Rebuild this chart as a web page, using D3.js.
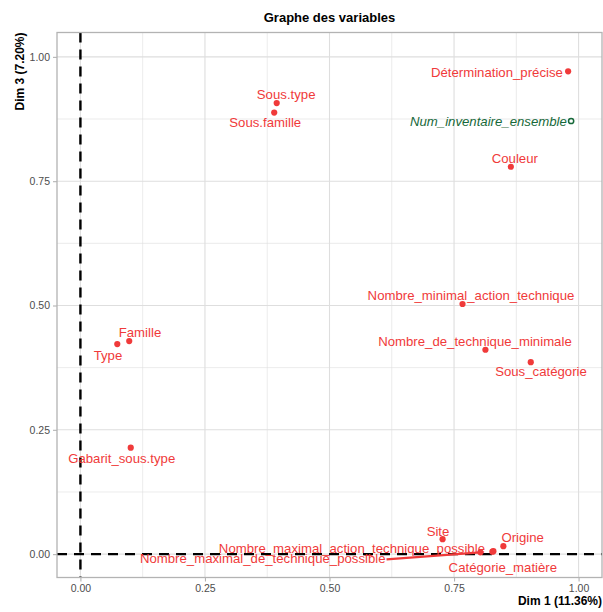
<!DOCTYPE html>
<html><head><meta charset="utf-8">
<script src="https://cdn.jsdelivr.net/npm/d3@7"></script>
<style>
html,body{margin:0;padding:0;background:#fff;}
svg{display:block;font-family:"Liberation Sans",Arial,Helvetica,sans-serif;}
</style></head>
<body>
<svg id="chart" width="603" height="612"></svg>
<script>
// ---- data ----
const variables = ["Détermination_précise","Num_inventaire_ensemble","Couleur","Sous.type","Sous.famille",
  "Nombre_minimal_action_technique","Nombre_de_technique_minimale","Sous_catégorie","Famille","Type",
  "Gabarit_sous.type","Site","Origine","Catégorie_matière","Nombre_maximal_action_technique_possible",
  "Nombre_maximal_de_technique_possible"];
const dim1 = [0.979,0.985,0.864,0.394,0.389,0.767,0.813,0.904,0.098,0.074,0.101,0.727,0.849,0.829,0.827,0.803];
const dim3 = [0.971,0.871,0.779,0.907,0.888,0.503,0.411,0.386,0.4285,0.4224,0.214,0.030,0.016,0.006,0.005,0.0036];
const supplementary = [false,true,false,false,false,false,false,false,false,false,false,false,false,false,false,false];
// repelled label centres (layout, in data units)
const labelX = [0.836,0.819,0.872,0.413,0.371,0.784,0.792,0.9245,0.1196,0.0554,0.0829,0.7178,0.8878,0.848,0.545,0.366];
const labelY = [0.970,0.871,0.796,0.925,0.868,0.521,0.4285,0.3668,0.447,0.400,0.1938,0.047,0.0338,-0.0265,0.0123,-0.0084];
const xTicks = [0,0.25,0.5,0.75,1.0];
const yTicks = [0,0.25,0.5,0.75,1.0];
const xMinor = [0.125,0.375,0.625,0.875];
const yMinor = [0.125,0.375,0.625,0.875];
const title = "Graphe des variables";
const xTitle = "Dim 1 (11.36%)";
const yTitle = "Dim 3 (7.20%)";

// ---- layout ----
const svg = d3.select("#chart");
const L=57, R=602, T=32.5, B=577.5;
const x = d3.scaleLinear().domain([-0.047,1.047]).range([L,R]);
const y = d3.scaleLinear().domain([-0.047,1.049]).range([B,T]);
const RED="#F03A3A", GREEN="#17693A", GRID="#DEDEDE", FRAME="#B3B3B3";

const g = svg.append("g");
g.append("rect").attr("x",L).attr("y",T).attr("width",R-L).attr("height",B-T).attr("fill","#fff");
// minor grid
g.selectAll(".mx").data(xMinor).join("line").attr("x1",d=>x(d)).attr("x2",d=>x(d)).attr("y1",T).attr("y2",B).attr("stroke",GRID).attr("stroke-width",0.6);
g.selectAll(".my").data(yMinor).join("line").attr("y1",d=>y(d)).attr("y2",d=>y(d)).attr("x1",L).attr("x2",R).attr("stroke",GRID).attr("stroke-width",0.6);
// major grid
g.selectAll(".gx").data(xTicks).join("line").attr("x1",d=>x(d)).attr("x2",d=>x(d)).attr("y1",T).attr("y2",B).attr("stroke",GRID).attr("stroke-width",1.1);
g.selectAll(".gy").data(yTicks).join("line").attr("y1",d=>y(d)).attr("y2",d=>y(d)).attr("x1",L).attr("x2",R).attr("stroke",GRID).attr("stroke-width",1.1);

// reference dashed lines
g.append("line").attr("x1",x(0)).attr("x2",x(0)).attr("y1",T).attr("y2",B).attr("stroke","#000").attr("stroke-width",2.4).attr("stroke-dasharray","10,7");
g.append("line").attr("y1",y(0)).attr("y2",y(0)).attr("x1",L).attr("x2",R).attr("stroke","#000").attr("stroke-width",2.4).attr("stroke-dasharray","10,7");

// axes
const xAxis = d3.axisBottom(x).tickValues(xTicks).tickFormat(d3.format(".2f")).tickSize(4).tickPadding(3);
const yAxis = d3.axisLeft(y).tickValues(yTicks).tickFormat(d3.format(".2f")).tickSize(4).tickPadding(3);
const gx = svg.append("g").attr("transform",`translate(0,${B})`).call(xAxis);
const gy = svg.append("g").attr("transform",`translate(${L},0)`).call(yAxis);
[gx,gy].forEach(a=>{
  a.select(".domain").remove();
  a.selectAll(".tick line").attr("stroke",FRAME).attr("stroke-width",1.1);
  a.selectAll(".tick text").attr("fill","#4D4D4D").attr("font-size","10.5px").attr("font-family","Liberation Sans, Arial, sans-serif");
});

// panel frame
svg.append("rect").attr("x",L).attr("y",T).attr("width",R-L).attr("height",B-T).attr("fill","none").attr("stroke",FRAME).attr("stroke-width",1.3);

// data-derived rows
const rows = variables.map((v,i)=>({name:v,x:dim1[i],y:dim3[i],sup:supplementary[i],lx:labelX[i],ly:labelY[i]}));
const fs = 13.2;
const tmp = svg.append("text").attr("font-size",fs+"px");
rows.forEach(r=>{ tmp.text(r.name); r.w = tmp.node().getComputedTextLength(); });
tmp.remove();

// segments (ggrepel-like) when label far from point
const segG = svg.append("g");
rows.forEach(r=>{
  const px=x(r.x), py=y(r.y), cx=x(r.lx), cy=y(r.ly);
  const hw=r.w/2, hh=7;
  const nx=Math.max(cx-hw,Math.min(px,cx+hw)), ny=Math.max(cy-hh,Math.min(py,cy+hh));
  const dist=Math.hypot(px-nx,py-ny);
  if(dist>20){
    const sx = px>cx+hw ? cx+hw+1 : (px<cx-hw ? cx-hw-1 : nx);
    const sy = (px>cx+hw || px<cx-hw) ? cy+1 : ny;
    segG.append("line").attr("x1",sx).attr("y1",sy).attr("x2",px).attr("y2",py)
      .attr("stroke",r.sup?GREEN:RED).attr("stroke-width",2.2);
  }
});

// points
svg.selectAll(".pt").data(rows).join("circle")
  .attr("cx",d=>x(d.x)).attr("cy",d=>y(d.y)).attr("r",d=>d.sup?2.6:3.1)
  .attr("fill",d=>d.sup?"none":RED).attr("stroke",d=>d.sup?GREEN:"none").attr("stroke-width",1.5);

// labels
svg.selectAll(".lab").data(rows).join("text")
  .attr("x",d=>x(d.lx)).attr("y",d=>y(d.ly)).attr("dy","0.36em")
  .attr("text-anchor","middle").attr("font-size",fs+"px")
  .attr("font-style",d=>d.sup?"italic":"normal")
  .attr("fill",d=>d.sup?GREEN:RED).text(d=>d.name);

// titles
svg.append("text").attr("x",(L+R)/2).attr("y",22).attr("text-anchor","middle").attr("font-weight","bold").attr("font-size","13px").text(title);
svg.append("text").attr("x",R).attr("y",605).attr("text-anchor","end").attr("font-weight","bold").attr("font-size","12px").text(xTitle);
svg.append("text").attr("transform",`translate(24,${T}) rotate(-90)`).attr("text-anchor","end").attr("font-weight","bold").attr("font-size","12px").text(yTitle);
</script>
</body></html>
